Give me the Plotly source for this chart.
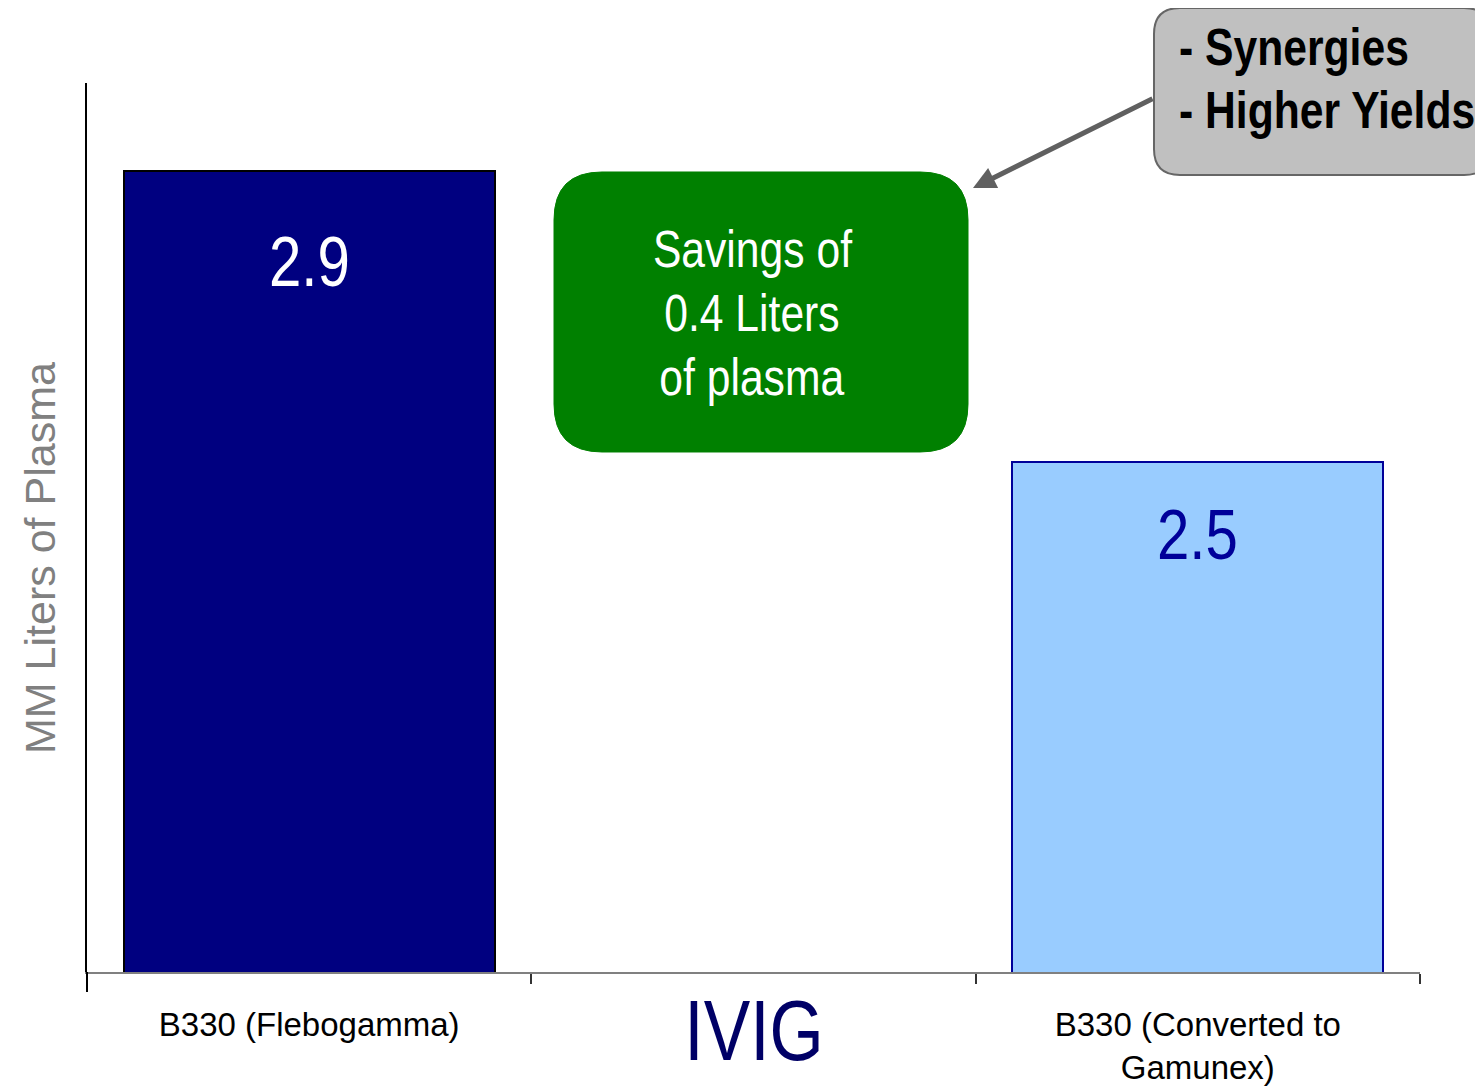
import plotly.graph_objects as go

# ---- data ----
categories = ["B330 (Flebogamma)", "IVIG", "B330 (Converted to Gamunex)"]
tick_labels = ["B330 (Flebogamma)", "", "B330 (Converted to<br>Gamunex)"]
values = [2.9, None, 2.5]
value_labels = ["2.9", "", "2.5"]
group_label = "IVIG"
y_title = "MM Liters of Plasma"
callout_lines = ["Savings of", "0.4 Liters", "of plasma"]
note_lines = ["- Synergies", "- Higher Yields"]

# ---- layout geometry (pixels, as seen in the reference) ----
OFF = 8  # default body margin of the html page
W, H = 1483 - OFF, 1088 - OFF
PL, PR, PT, PB = 87, 1420, 83, 972
PW, PH = PR - PL, PB - PT

NARROW = "Liberation Sans Narrow, Liberation Sans, Arial, sans-serif"
ARIAL = "Liberation Sans, Arial, sans-serif"


def xp(x):
    return (x - PL) / PW


def yp(y):
    return (PB - y) / PH


def rrect(x0, y0, x1, y1, r):
    def P(x, y):
        return f"{xp(x):.5f},{yp(y):.5f}"
    return (f"M {P(x0 + r, y0)} L {P(x1 - r, y0)} Q {P(x1, y0)} {P(x1, y0 + r)} "
            f"L {P(x1, y1 - r)} Q {P(x1, y1)} {P(x1 - r, y1)} "
            f"L {P(x0 + r, y1)} Q {P(x0, y1)} {P(x0, y1 - r)} "
            f"L {P(x0, y0 + r)} Q {P(x0, y0)} {P(x0 + r, y0)} Z")


bar_fill = ["#000080", "#000080", "#99CCFF"]
bar_line = ["#000000", "#000000", "#000099"]

fig = go.Figure()
fig.add_trace(go.Bar(
    x=categories, y=values, width=0.835,
    marker=dict(color=bar_fill, line=dict(color=bar_line, width=2)),
    hoverinfo="skip", showlegend=False,
))

annotations = []
label_colors = ["#FFFFFF", "#FFFFFF", "#000099"]
label_shift = [-90, 0, -72]
for c, v, t, col, sh in zip(categories, values, value_labels, label_colors, label_shift):
    if v is None:
        continue
    annotations.append(dict(x=c, y=v, xref="x", yref="y", text=t, showarrow=False,
                            yanchor="middle", yshift=sh,
                            font=dict(family=NARROW, size=71, color=col)))

# IVIG group label
annotations.append(dict(x=group_label, y=yp(1030), xref="x", yref="paper", text=group_label,
                        showarrow=False, yanchor="middle",
                        font=dict(family=NARROW, size=85, color="#000066")))

# y-axis title
annotations.append(dict(x=xp(40), y=yp(558), xref="paper", yref="paper", text=y_title,
                        textangle=-90, showarrow=False, xanchor="center", yanchor="middle",
                        font=dict(family=ARIAL, size=43, color="#808080")))

# green callout text
for i, line in enumerate(callout_lines):
    annotations.append(dict(x=xp(752), y=yp(249 + 64 * i), xref="paper", yref="paper",
                            text=line, showarrow=False, xanchor="center", yanchor="middle",
                            font=dict(family=NARROW, size=52, color="#FFFFFF")))

# gray note text
for i, line in enumerate(note_lines):
    annotations.append(dict(x=xp(1177), y=yp(47 + 63 * i), xref="paper", yref="paper",
                            text=f"<b>{line}</b>", showarrow=False, xanchor="left", yanchor="middle",
                            font=dict(family=NARROW, size=52, color="#000000")))

# arrow
annotations.append(dict(x=xp(973), y=yp(188), xref="paper", yref="paper", text="",
                        showarrow=True, ax=1154 - 973, ay=98 - 188, axref="pixel", ayref="pixel",
                        arrowhead=2, arrowsize=0.9, arrowwidth=5, arrowcolor="#606060"))

shapes = [
    dict(type="path", xref="paper", yref="paper", path=rrect(554, 172, 968, 452, 48),
         fillcolor="#008000", line=dict(color="#008000", width=1), layer="above"),
    dict(type="path", xref="paper", yref="paper", path=rrect(1154, 8, 1490, 175, 26),
         fillcolor="#C0C0C0", line=dict(color="#666666", width=2), layer="above"),
    dict(type="line", xref="paper", yref="paper", x0=0, x1=0, y0=0, y1=yp(992),
         line=dict(color="#000000", width=2)),
]

fig.update_layout(
    width=W, height=H,
    margin=dict(l=PL - OFF, r=W - (PR - OFF), t=PT - OFF, b=H - (PB - OFF), autoexpand=False),
    paper_bgcolor="white", plot_bgcolor="white",
    bargap=0, showlegend=False,
    annotations=annotations, shapes=shapes,
    xaxis=dict(type="category", categoryorder="array", categoryarray=categories,
               tickvals=categories, ticktext=tick_labels, automargin=False,
               tickson="boundaries", ticks="outside", ticklen=10, tickwidth=1.5,
               tickcolor="#333333", showline=True, linecolor="#808080", linewidth=2,
               showgrid=False, zeroline=False, ticklabelstandoff=22,
               tickfont=dict(family=ARIAL, size=33, color="#000000"),
               range=[-0.5, 2.5]),
    yaxis=dict(range=[1.8, 3.021], showline=True, linecolor="#000000", linewidth=2,
               automargin=False,
               showticklabels=False, ticks="", showgrid=False, zeroline=False),
)

# No narrow font is installed: compress texts that ask for the narrow family
# horizontally (Arial Narrow is ~82% of Arial's width), keeping them as real text.
post_js = """
(function(){
  var gd = document.getElementById('{plot_id}');
  function narrow(){
    gd.querySelectorAll('text').forEach(function(el){
      var ff = el.style.fontFamily || '';
      if (ff.indexOf('Narrow') < 0 || el.getAttribute('data-narrowed')) return;
      var bb = el.getBBox();
      var xa = 'center';
      var g = el.closest('g.annotation');
      if (g && gd._fullLayout && gd._fullLayout.annotations) {
        var a = gd._fullLayout.annotations[+g.getAttribute('data-index')];
        if (a && a.xanchor) xa = a.xanchor;
      }
      var cx = xa === 'left' ? bb.x : (xa === 'right' ? bb.x + bb.width : bb.x + bb.width / 2);
      var t = el.getAttribute('transform') || '';
      el.setAttribute('transform', t + ' translate(' + cx + ',0) scale(0.82,1) translate(' + (-cx) + ',0)');
      el.setAttribute('data-narrowed', '1');
    });
  }
  narrow();
  if (gd.on) gd.on('plotly_afterplot', narrow);
})();
"""

fig.write_html("out.html", post_script=post_js)
